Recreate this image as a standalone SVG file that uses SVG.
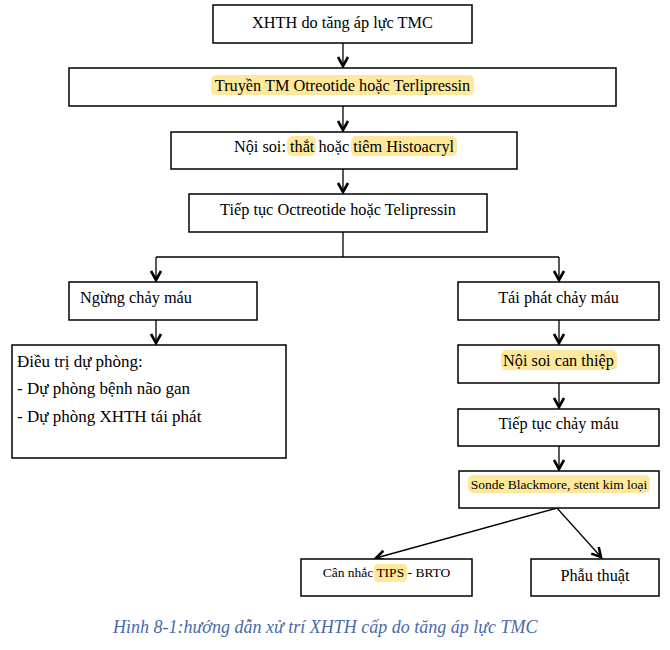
<svg xmlns="http://www.w3.org/2000/svg" width="670" height="650" viewBox="0 0 670 650">
<defs>
<style>
.box{fill:#fff;stroke:#000;stroke-width:1.5}
.t{font-size:16.3px;fill:#000}
.c{text-anchor:middle}
.s{font-size:13.5px}
.hl{fill:#fde89c}
.ln{fill:none;stroke:#000;stroke-width:1.3}
.cap{font-style:italic;font-size:18px;fill:#4a6aa8}
</style>
<marker id="ah" markerUnits="userSpaceOnUse" viewBox="-12 -8 14 16" markerWidth="14" markerHeight="16" refX="0" refY="0" orient="auto" overflow="visible">
<path d="M-9,-5 L0,0 L-9,5" fill="none" stroke="#000" stroke-width="2.6"/>
</marker>
</defs>
<rect width="670" height="650" fill="#fff"/>
<g id="connectors">
<path class="ln" d="M343,43 V66" marker-end="url(#ah)"/>
<path class="ln" d="M343,106 V130" marker-end="url(#ah)"/>
<path class="ln" d="M343,169 V192" marker-end="url(#ah)"/>
<path class="ln" d="M343,232 V257 M156,257 H559"/>
<path class="ln" d="M156,257 V280" marker-end="url(#ah)"/>
<path class="ln" d="M559,257 V280" marker-end="url(#ah)"/>
<path class="ln" d="M156,320 V343" marker-end="url(#ah)"/>
<path class="ln" d="M559,320 V343" marker-end="url(#ah)"/>
<path class="ln" d="M559,383 V407" marker-end="url(#ah)"/>
<path class="ln" d="M559,446 V469" marker-end="url(#ah)"/>
<path class="ln" d="M557,508 L376,558" marker-end="url(#ah)"/>
<path class="ln" d="M557,508 L601,557" marker-end="url(#ah)"/>
</g>
<g font-family="'Liberation Serif', 'DejaVu Serif', serif">
<g id="n1">
<rect class="box" x="213" y="5" width="259" height="38"/>
<text class="t c" x="342.5" y="28">XHTH do tăng áp lực TMC</text>
</g>
<g id="n2">
<rect class="box" x="69" y="68" width="547" height="38"/>
<rect class="hl" x="211" y="75" width="263" height="20" rx="5"/>
<text class="t c" x="342.5" y="91">Truyền TM Otreotide hoặc Terlipressin</text>
</g>
<g id="n3">
<rect class="box" x="171" y="132" width="346" height="37"/>
<rect class="hl" x="287" y="136" width="29" height="20" rx="5"/>
<rect class="hl" x="351" y="136" width="106" height="20" rx="5"/>
<text class="t c" x="344" y="152">Nội soi: thắt hoặc tiêm Histoacryl</text>
</g>
<g id="n4">
<rect class="box" x="189" y="194" width="298" height="38"/>
<text class="t c" x="338" y="215">Tiếp tục Octreotide hoặc Telipressin</text>
</g>
<g id="n5">
<rect class="box" x="69" y="282" width="188" height="38"/>
<text class="t" x="80" y="303">Ngừng chảy máu</text>
</g>
<g id="n6">
<rect class="box" x="12" y="345" width="274" height="113"/>
<text class="t" x="17" y="367" style="font-size:17px">Điều trị dự phòng:</text>
<text class="t" x="17" y="394" style="font-size:17px">- Dự phòng bệnh não gan</text>
<text class="t" x="17" y="422" style="font-size:17px">- Dự phòng XHTH tái phát</text>
</g>
<g id="n7">
<rect class="box" x="458" y="282" width="201" height="38"/>
<text class="t c" x="558.5" y="303">Tái phát chảy máu</text>
</g>
<g id="n8">
<rect class="box" x="458" y="345" width="201" height="38"/>
<rect class="hl" x="501" y="350" width="116" height="20" rx="5"/>
<text class="t c" x="558.5" y="366">Nội soi can thiệp</text>
</g>
<g id="n9">
<rect class="box" x="458" y="409" width="201" height="37"/>
<text class="t c" x="558.5" y="429">Tiếp tục chảy máu</text>
</g>
<g id="n10">
<rect class="box" x="459" y="471" width="200" height="37"/>
<rect class="hl" x="468" y="475" width="182" height="18" rx="5"/>
<text class="t c s" x="559" y="489">Sonde Blackmore, stent kim loại</text>
</g>
<g id="n11">
<rect class="box" x="301" y="559" width="171" height="37"/>
<rect class="hl" x="374" y="564" width="33" height="18" rx="4"/>
<text class="t c s" x="386.5" y="577">Cân nhắc TIPS - BRTO</text>
</g>
<g id="n12">
<rect class="box" x="531" y="559" width="128" height="37"/>
<text class="t c" x="595" y="581">Phẫu thuật</text>
</g>
<text class="cap" x="113" y="633">Hình 8-1:hướng dẫn xử trí XHTH cấp do tăng áp lực TMC</text>
</g>
</svg>
